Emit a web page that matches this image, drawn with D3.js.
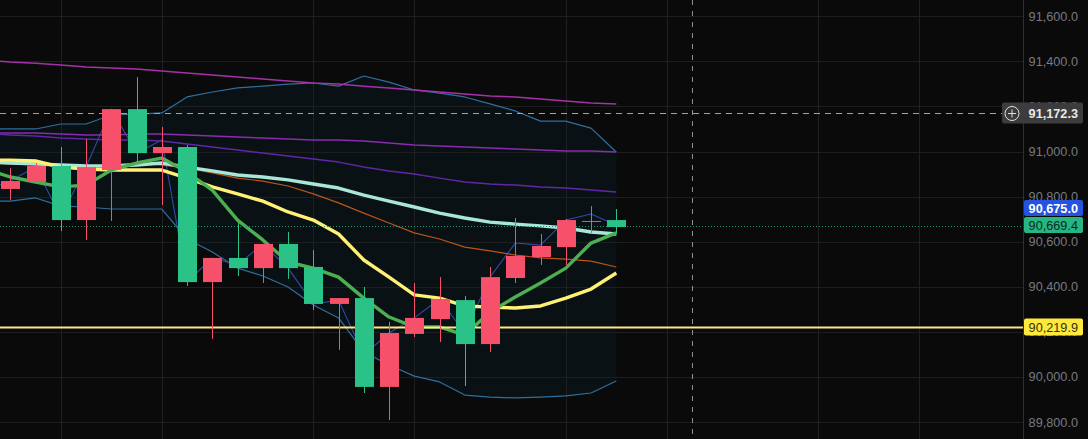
<!DOCTYPE html>
<html><head><meta charset="utf-8">
<style>html,body{margin:0;padding:0;background:#0a0a0a;overflow:hidden}svg{display:block}text{font-family:"Liberation Sans",Arial,sans-serif}</style>
<script src="https://cdnjs.cloudflare.com/ajax/libs/d3/7.8.5/d3.min.js"></script>
</head><body><svg id="c" width="1088" height="439"></svg>
<script>
const open_=[90869,90936,90696,90931,91188,90993,91020,90421,90528,90483,90590,90483,90324,90350,89956,90195,90262,90346,90146,90443,90537,90581,90696,90692,90665];
const high_=[90927,90949,91020,91055,91188,91330,91109,91029,90528,90683,90590,90643,90563,90350,90399,90244,90417,90443,90359,90488,90705,90634,90701,90758,90745];
const low_=[90785,90865,90647,90608,90692,90953,90763,90404,90169,90448,90417,90435,90297,90120,89929,89809,90177,90155,89960,90111,90417,90497,90497,90639,90639];
const close_=[90834,90865,90936,90696,90918,91188,90993,91020,90421,90528,90483,90590,90488,90324,90350,89956,90191,90257,90341,90146,90439,90532,90576,90690,90696];
// line series start one bar before the first visible candle
const yellowMA=[90962,90962,90958,90931,90922,90918,90918,90918,90882,90843,90812,90780,90732,90696,90634,90519,90443,90364,90350,90315,90310,90306,90315,90350,90390,90461];
const greenMA=[90922,90887,90865,90843,90851,90918,90949,90971,90909,90829,90696,90608,90510,90483,90443,90350,90266,90222,90222,90186,90288,90355,90417,90483,90594,90639];
const tealMA=[90953,90949,90945,90940,90936,90936,90940,90949,90931,90914,90896,90887,90874,90856,90838,90807,90780,90754,90727,90705,90687,90678,90670,90661,90643,90634];
const orangeMA=[90949,90945,90940,90936,90931,90940,90949,90940,90927,90905,90882,90869,90847,90812,90772,90727,90683,90639,90612,90576,90559,90541,90528,90523,90514,90488];
const bandUpper=[91100,91100,91100,91122,91122,91162,91166,91171,91242,91264,91282,91290,91299,91304,91290,91335,91308,91273,91259,91242,91211,91180,91135,91135,91104,90998];
const bandLower=[90780,90780,90794,90758,90754,90745,90745,90745,90612,90554,90483,90448,90399,90319,90262,90111,90053,90004,89978,89920,89911,89907,89911,89916,89929,89982];
const jagged=[90829,90869,90931,90710,90931,91188,90993,91051,90421,90528,90497,90590,90483,90324,90341,90098,90195,90262,90346,90195,90443,90594,90585,90696,90723,90674];
const magentaMA=[91406,91397,91392,91384,91375,91370,91366,91357,91348,91339,91330,91322,91313,91304,91299,91290,91282,91273,91264,91255,91246,91242,91233,91224,91215,91211];
const purpleMA=[91082,91082,91082,91078,91073,91073,91078,91078,91073,91069,91064,91060,91055,91051,91051,91047,91038,91029,91024,91020,91016,91011,91007,91002,91002,90998];
const violetMA=[91082,91073,91069,91060,91055,91051,91051,91047,91033,91020,91007,90993,90980,90967,90953,90931,90914,90900,90882,90865,90856,90851,90843,90838,90829,90820];
const priceTicks=[89800,90000,90200,90400,90600,90800,91000,91200,91400,91600];
const gridBars=[2,6,12,16,22,26,32,36];
const crossBar=27, crossPrice=91172.3, lastPrice=90675.0, markPrice=90669.4, levelPrice=90219.9;

const W=1088,H=439,axisX=1023;
const x=d3.scaleLinear().domain([0,24]).range([10.3,616.3]);
const y=d3.scaleLinear().domain([89725,91672]).range([439,0]);
const fmt=d3.format(",.1f");
const svg=d3.select("#c");
svg.append("rect").attr("width",W).attr("height",H).attr("fill","#0a0a0a");
const xi=(d,i)=>x(i-1);
// band fill
svg.append("path").datum(bandUpper).attr("fill","#0a1115").attr("d",
  d3.area().x(xi).y0((d,i)=>y(bandLower[i])).y1(d=>y(d)));
// grid
svg.append("g").selectAll("line").data(priceTicks).join("line")
 .attr("x1",0).attr("x2",axisX).attr("y1",d=>Math.round(y(d))+.5).attr("y2",d=>Math.round(y(d))+.5).attr("stroke","#1c1e20");
svg.append("g").selectAll("line").data(gridBars).join("line")
 .attr("x1",d=>Math.round(x(d))+.5).attr("x2",d=>Math.round(x(d))+.5).attr("y1",0).attr("y2",H).attr("stroke","#1e2022");
// reference lines
const ln=d3.line().x(xi).y(d=>y(d));
const series=[[bandUpper,"#2f6f9f",1.2],[bandLower,"#2f6f9f",1.2],[jagged,"#2f4aa8",1.1],
 [magentaMA,"#a531a8",1.5],[purpleMA,"#8a2bb0",1.5],[violetMA,"#5f27a8",1.5],[orangeMA,"#b8561a",1.2],
 [tealMA,"#a8e6d8",3.4],[yellowMA,"#fff176",3.4],[greenMA,"#4caf50",3.4]];
svg.append("g").selectAll("path").data(series).join("path")
 .attr("fill","none").attr("stroke",d=>d[1]).attr("stroke-width",d=>d[2]).attr("stroke-linejoin","round")
 .attr("d",d=>ln(d[0]));
svg.append("line").attr("x1",0).attr("x2",axisX).attr("y1",y(levelPrice)).attr("y2",y(levelPrice)).attr("stroke","#ffe682").attr("stroke-width",2);
svg.append("line").attr("x1",0).attr("x2",axisX).attr("y1",y(markPrice)+.5).attr("y2",y(markPrice)+.5).attr("stroke","#1f9a70").attr("stroke-dasharray","1 2");
// crosshair
svg.append("line").attr("x1",Math.round(x(crossBar))+.5).attr("x2",Math.round(x(crossBar))+.5).attr("y1",0).attr("y2",H).attr("stroke","#8f9196").attr("stroke-dasharray","5 6");
svg.append("line").attr("x1",0).attr("x2",1002).attr("y1",Math.round(y(crossPrice))+.5).attr("y2",Math.round(y(crossPrice))+.5).attr("stroke","#a0a2a6").attr("stroke-dasharray","6 5");
// candles
const RED="#f7506a",GRN="#2bc287";
const candles=open_.map((o,i)=>({i,o,c:close_[i],h:high_[i],l:low_[i]}));
const g=svg.append("g").selectAll("g").data(candles).join("g");
g.append("line").attr("x1",d=>Math.round(x(d.i))+.5).attr("x2",d=>Math.round(x(d.i))+.5)
 .attr("y1",d=>y(d.h)).attr("y2",d=>y(d.l)).attr("stroke",d=>d.c>d.o?GRN:RED);
g.append("rect").attr("x",d=>Math.round(x(d.i))-9).attr("width",19)
 .attr("y",d=>y(Math.max(d.o,d.c))).attr("height",d=>Math.max(1,Math.abs(y(d.o)-y(d.c))))
 .attr("fill",d=>d.c>d.o?GRN:RED);
// axis
svg.append("line").attr("x1",axisX+.5).attr("x2",axisX+.5).attr("y1",0).attr("y2",H).attr("stroke","#2e2f31");
svg.append("g").selectAll("text").data(priceTicks).join("text")
 .attr("x",1078).attr("y",d=>y(d)+4.5).attr("text-anchor","end").attr("font-size",12.7).attr("fill","#777a80").text(d=>fmt(d));
function tag(v,x0,w,h,bg,fg,bold,off){
 const cy=Math.round(y(v))+off;
 svg.append("rect").attr("x",x0).attr("y",cy-h/2).attr("width",w).attr("height",h).attr("rx",2).attr("fill",bg);
 svg.append("text").attr("x",1078).attr("y",cy+4.5).attr("text-anchor","end").attr("font-size",12.7)
  .attr("font-weight",bold?"bold":"normal").attr("fill",fg).text(fmt(v));
}
tag(crossPrice,1002,81,21,"#3c3c3e","#e8e8e8",true,0);
const cyy=Math.round(y(crossPrice))+.5;
svg.append("circle").attr("cx",1012).attr("cy",cyy).attr("r",7).attr("fill","none").attr("stroke","#e0e0e0");
svg.append("path").attr("d",`M1008 ${cyy}H1016M1012 ${cyy-4}V${cyy+4}`).attr("stroke","#e0e0e0");
tag(lastPrice,axisX+1,59,16,"#2453e0","#ffffff",true,-17);
tag(markPrice,axisX+1,59,16,"#26b583","#0c2a20",false,-1);
tag(levelPrice,axisX+1,59,17,"#ffe93b","#333016",false,0);
</script></body></html>
